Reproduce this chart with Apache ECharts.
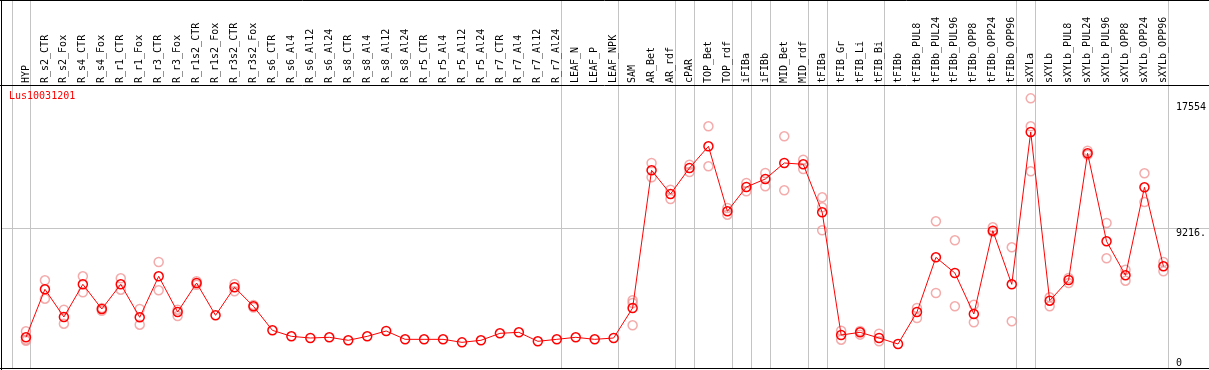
<!DOCTYPE html>
<html><head><meta charset="utf-8">
<script src="https://cdn.jsdelivr.net/npm/echarts@6/dist/echarts.min.js"></script>
<style>html,body{margin:0;padding:0;background:#fff}#c{width:1209px;height:370px}</style>
</head><body><div id="c"></div>
<script>
const title = 'Lus10031201';
const categories = ['HYP','R_s2_CTR','R_s2_Fox','R_s4_CTR','R_s4_Fox','R_r1_CTR','R_r1_Fox','R_r3_CTR','R_r3_Fox','R_r1s2_CTR',
 'R_r1s2_Fox','R_r3s2_CTR','R_r3s2_Fox','R_s6_CTR','R_s6_Al4','R_s6_Al12','R_s6_Al24','R_s8_CTR','R_s8_Al4','R_s8_Al12',
 'R_s8_Al24','R_r5_CTR','R_r5_Al4','R_r5_Al12','R_r5_Al24','R_r7_CTR','R_r7_Al4','R_r7_Al12','R_r7_Al24','LEAF_N',
 'LEAF_P','LEAF_NPK','SAM','AR_Bet','AR_rdf','cPAR','TOP_Bet','TOP_rdf','iFIBa','iFIBb',
 'MID_Bet','MID_rdf','tFIBa','tFIB_Gr','tFIB_Li','tFIB_Bi','tFIBb','tFIBb_PUL8','tFIBb_PUL24','tFIBb_PUL96',
 'tFIBb_OPP8','tFIBb_OPP24','tFIBb_OPP96','sXYLa','sXYLb','sXYLb_PUL8','sXYLb_PUL24','sXYLb_PUL96','sXYLb_OPP8','sXYLb_OPP24','sXYLb_OPP96'];
const meanValues = [2025,5192,3365,5522,3892,5522,3345,6049,3694,5607,
 3475,5324,4068,2485,2089,1979,2025,1827,2089,2441,
 1891,1891,1891,1693,1827,2287,2353,1760,1891,2025,
 1891,1979,3958,13042,11479,13194,14626,10337,11941,12468,
 13524,13438,10272,2177,2353,1979,1583,3694,7301,6267,
 3562,9058,5522,15569,4440,5805,14164,8358,6115,11921,6709];
const rep1 = [2421,5786,3847,6049,3958,5918,3892,6993,3847,5720,
 null,5541,4150,null,null,null,null,null,null,null,
 null,null,null,null,null,null,null,null,null,null,
 null,null,4466,13524,11763,13412,15945,10555,12204,12864,
 15285,13742,11261,2461,2441,2263,null,3958,9677,8424,
 4178,9282,7963,17790,4664,5937,14335,9566,6485,12844,6993];
const rep2 = [1867,4572,2923,4994,3780,5165,2857,5126,3430,5495,
 null,5060,3990,null,null,null,null,null,null,null,
 null,null,null,null,null,null,null,null,null,null,
 null,null,2817,12580,11149,12930,13306,10114,11657,11987,
 11723,13128,9084,1867,2200,1760,null,3298,4948,4068,
 3015,8972,3081,12976,4068,5607,14071,7237,5759,10951,6379];
const rep3 = [1790,null,null,null,null,null,null,null,null,null,
 null,null,null,null,null,null,null,null,null,null,
 null,null,null,null,null,null,null,null,null,null,
 null,null,4288,null,null,null,null,null,null,null,
 null,null,10601,null,null,null,null,null,null,null,
 null,null,null,15945,null,null,null,null,null,null,null];
const yTickValues = [9216, 17554];
const yZeroTick = [0];
const separatorsAfter = ['HYP','R_r7_Al24','LEAF_NPK','AR_rdf','cPAR','TOP_rdf','iFIBa','iFIBb','MID_rdf','tFIBa','tFIB_Bi','tFIBb_OPP96','sXYLa','sXYLb_OPP96'];
const gridLineValue = 9216;

const MONO = '"DejaVu Sans Mono", "Liberation Mono", monospace';
const RED = '#ff0000', PINK = '#f09696';
const YMAX = 18670;

const chart = echarts.init(document.getElementById('c'), null, {renderer:'canvas'});
function repSeries(d){
  return {type:'scatter', data:d, symbol:'circle', symbolSize:9, z:3, silent:true,
    itemStyle:{color:'transparent', borderColor:PINK, borderWidth:1.5}};
}
chart.setOption({
  animation:false,
  title:{text:title, left:9, top:91, padding:0, textStyle:{color:RED, fontSize:10, fontWeight:'normal', fontFamily:MONO}},
  grid:{left:16.5, width:1159, top:85, height:283},
  xAxis:[{type:'category', data:categories, position:'top', boundaryGap:true,
    axisLine:{show:true, lineStyle:{color:'#000', width:1}}, axisTick:{show:false},
    axisLabel:{interval:0, rotate:90, margin:2, fontSize:10, fontFamily:MONO, color:'#000'},
    splitLine:{show:false}}],
  yAxis:[
    {type:'value', min:0, max:YMAX, position:'right', axisLine:{show:false}, axisTick:{show:false}, splitLine:{show:false},
     axisLabel:{customValues:yTickValues, align:'left', verticalAlign:'top', margin:3, fontSize:10, fontFamily:MONO, color:'#000',
       formatter:v=> v===9216 ? '9216.' : String(v)}},
    {type:'value', min:0, max:YMAX, position:'right', axisLine:{show:false}, axisTick:{show:false}, splitLine:{show:false},
     axisLabel:{customValues:yZeroTick, align:'left', verticalAlign:'bottom', margin:3, fontSize:10, fontFamily:MONO, color:'#000',
       formatter:v=>String(v)}}
  ],
  series:[
    repSeries(rep1), repSeries(rep2), repSeries(rep3),
    {type:'line', data:meanValues, symbol:'circle', symbolSize:9, showAllSymbol:true, z:5, silent:true,
     lineStyle:{color:RED, width:1}, itemStyle:{color:'transparent', borderColor:RED, borderWidth:1.5}}
  ]
});

const px0 = chart.convertToPixel({xAxisIndex:0}, 0);
const px1 = chart.convertToPixel({xAxisIndex:0}, 1);
const step = px1 - px0;
const gy = Math.round(chart.convertToPixel({yAxisIndex:0}, gridLineValue)) + 0.5;
const G = '#c4c4c4';
const els = [];
const sepIdx = [-1].concat(separatorsAfter.map(n => categories.indexOf(n)));
sepIdx.forEach(i => {
  const x = Math.round(px0 + i*step + 4.5) + 0.5;
  els.push({type:'line', z:0, shape:{x1:x, y1:0, x2:x, y2:368}, style:{stroke:G, lineWidth:1}});
});
els.push({type:'line', z:0, shape:{x1:1, y1:gy, x2:1209, y2:gy}, style:{stroke:G, lineWidth:1}});
// frame
els.push({type:'line', z:10, shape:{x1:0, y1:0.5, x2:1209, y2:0.5}, style:{stroke:'#000', lineWidth:1}});
els.push({type:'line', z:10, shape:{x1:0, y1:85.5, x2:1209, y2:85.5}, style:{stroke:'#000', lineWidth:1}});
els.push({type:'line', z:10, shape:{x1:0, y1:368.5, x2:1209, y2:368.5}, style:{stroke:'#000', lineWidth:1}});
els.push({type:'line', z:10, shape:{x1:1.5, y1:0, x2:1.5, y2:370}, style:{stroke:'#000', lineWidth:1}});
chart.setOption({graphic:{elements:els}});
</script></body></html>
